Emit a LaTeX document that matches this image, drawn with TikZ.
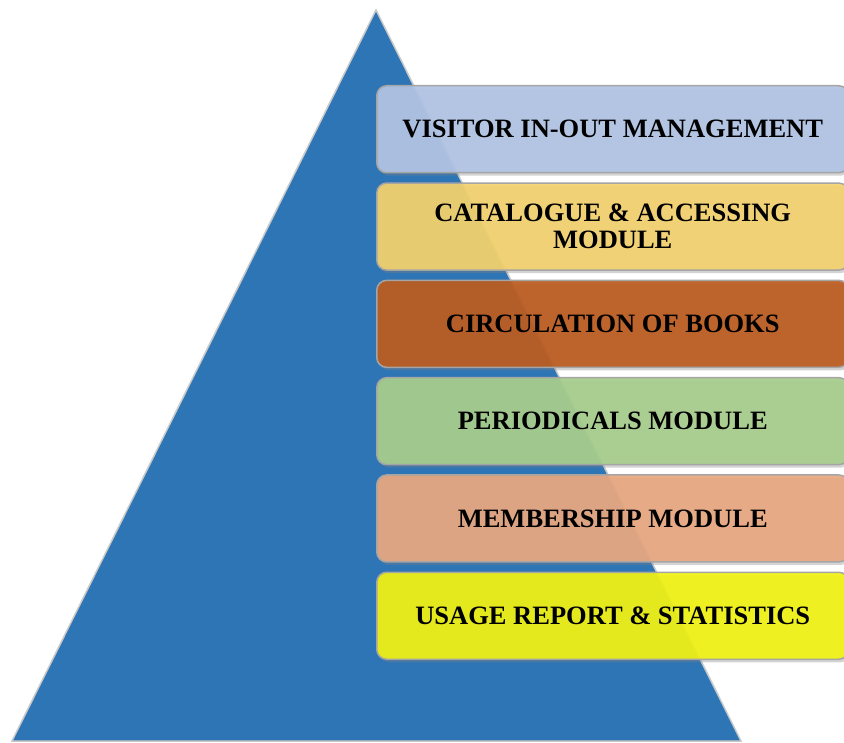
\documentclass[tikz,border=0pt]{standalone}
\usepackage{fontspec}
\setmainfont{Liberation Serif}
\usetikzlibrary{shadows}
\newcommand{\boxLeft}{376}
\newcommand{\boxWidth}{472pt}
\newcommand{\boxHeight}{87pt}
\newcommand{\boxTop}{85}
\newcommand{\boxPitch}{97.3}
\newcommand{\fontSize}{26.5}
\definecolor{edgeGray}{RGB}{165,165,165}
\definecolor{triBlue}{RGB}{46,117,182}
\definecolor{boxBlue}{RGB}{178,196,229}
\definecolor{boxGold}{RGB}{243,210,110}
\definecolor{boxRust}{RGB}{188,92,32}
\definecolor{boxGreen}{RGB}{167,206,141}
\definecolor{boxPeach}{RGB}{232,168,128}
\definecolor{boxLemon}{RGB}{240,242,20}
\tikzstyle{tri}=[draw=edgeGray!60, line width=1.5pt, fill=triBlue, line join=miter]
\tikzstyle{modbox}=[draw=edgeGray, line width=1.5pt, rounded corners=10pt, fill opacity=0.93, text opacity=1, minimum width=\boxWidth, minimum height=\boxHeight, anchor=north west, inner sep=0, align=center, drop shadow={opacity=0.35, shadow xshift=2pt, shadow yshift=-3pt}, font=\bfseries\fontsize{\fontSize}{27}\selectfont]

\begin{document}
\begin{tikzpicture}[x=1pt, y=-1pt]

% Frame
\useasboundingbox (0,0) rectangle (844,743);
\clip (0,0) rectangle (844,743);

% Pyramid
\coordinate (apex) at (376,10);
\coordinate (baseRight) at (741,741);
\coordinate (baseLeft) at (12,741);
\draw[tri] (apex) -- (baseRight) -- (baseLeft) -- cycle;

% Modules
\node[modbox, fill=boxBlue] (visitor) at (\boxLeft,\boxTop) {VISITOR IN-OUT MANAGEMENT};
\node[modbox, fill=boxGold] (catalogue) at (\boxLeft,\boxTop+\boxPitch) {CATALOGUE \& ACCESSING\\MODULE};
\node[modbox, fill=boxRust] (circulation) at (\boxLeft,\boxTop+2*\boxPitch) {CIRCULATION OF BOOKS};
\node[modbox, fill=boxGreen] (periodicals) at (\boxLeft,\boxTop+3*\boxPitch) {PERIODICALS MODULE};
\node[modbox, fill=boxPeach] (membership) at (\boxLeft,\boxTop+4*\boxPitch) {MEMBERSHIP MODULE};
\node[modbox, fill=boxLemon] (usage) at (\boxLeft,\boxTop+5*\boxPitch) {USAGE REPORT \& STATISTICS};

\end{tikzpicture}
\end{document}
